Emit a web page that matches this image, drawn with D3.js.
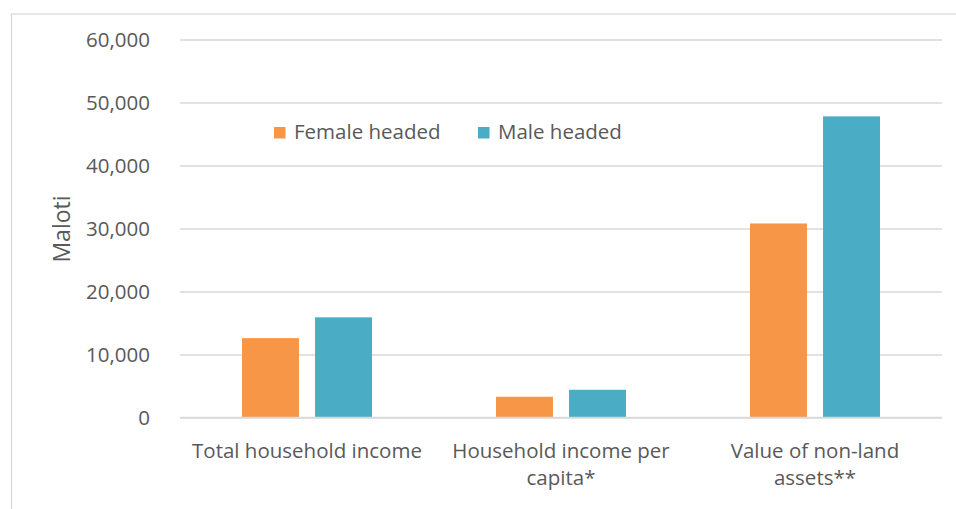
<!DOCTYPE html>
<html>
<head>
<meta charset="utf-8">
<script src="https://cdn.jsdelivr.net/npm/d3@7"></script>
<style>
  body { margin: 0; background: #fff; }
  text { font-family: "Open Sans", sans-serif; fill: #595959; }
</style>
</head>
<body>
<div id="chart"></div>
<script>
const width = 956;
const height = 509;
var margin = {top: 39.5, bottom: 91.5, left: 180, right: 14};

// ******** DATA *********
const categories = ["Total household income", "Household income per capita*", "Value of non-land assets**"];
const seriesNames = ["Female headed", "Male headed"];
const femaleValues = [12600, 3300, 30800];
const maleValues = [15900, 4400, 47800];
const yTicks = [0, 10000, 20000, 30000, 40000, 50000, 60000];
const colors = {"Female headed": "#F79646", "Male headed": "#4BACC6"};

var rows = categories.map(function(c, i){
  return {cat: c, values: [
    {key: seriesNames[0], value: femaleValues[i]},
    {key: seriesNames[1], value: maleValues[i]}
  ]};
});

// ********* SVG *********
var svg = d3.select("#chart").append("svg")
.attr("width", width)
.attr("height", height);

// chart frame (right and bottom run off the picture)
svg.append("rect")
.attr("x", 11.5)
.attr("y", 14)
.attr("width", 990)
.attr("height", 540)
.attr("fill", "none")
.attr("stroke", "#d9d9d9")
.attr("stroke-width", 1.3);

// ******** SCALES *********
var y_scale = d3.scaleLinear()
.domain([0, 60000])
.range([height - margin.bottom, margin.top]);

var x0 = d3.scaleBand()
.domain(categories)
.range([margin.left, width - margin.right]);

var x1 = d3.scaleBand()
.domain(seriesNames)
.range([62, x0.bandwidth() - 62])
.paddingInner(0.22);

// ******** GRIDLINES + Y AXIS *********
var y_axis = d3.axisLeft(y_scale)
.tickValues(yTicks)
.tickSize(-(width - margin.right - margin.left))
.tickPadding(30)
.tickFormat(d3.format(","));

svg.append("g")
.attr("transform", `translate(${margin.left}, 0)`)
.call(y_axis)
.call(function(g){
  g.select(".domain").remove();
  g.selectAll(".tick line")
    .attr("stroke", "#d9d9d9")
    .attr("stroke-width", 1.4);
  g.selectAll(".tick text")
    .attr("dy", "0.34em")
    .style("font-size", "20.5px")
    .style("font-family", "Open Sans")
    .style("fill", "#595959");
});

// y title
svg.append("text")
.attr("transform", "translate(70, 229) rotate(-90)")
.attr("text-anchor", "middle")
.style("font-size", "23px")
.text("Maloti");

// ******** BARS *********
var groups = svg.append("g").selectAll(".group")
.data(rows)
.enter().append("g")
.attr("class", "group")
.attr("transform", function(d){ return `translate(${x0(d.cat)}, 0)`; });

groups.selectAll("rect")
.data(function(d){ return d.values; })
.enter().append("rect")
.attr("x", function(d){ return x1(d.key); })
.attr("y", function(d){ return y_scale(d.value); })
.attr("width", x1.bandwidth())
.attr("height", function(d){ return y_scale(0) - y_scale(d.value); })
.attr("fill", function(d){ return colors[d.key]; });

// baseline over the bars
svg.append("line")
.attr("x1", margin.left)
.attr("x2", width - margin.right)
.attr("y1", y_scale(0))
.attr("y2", y_scale(0))
.attr("stroke", "#d9d9d9")
.attr("stroke-width", 1.4);

// ******** CATEGORY LABELS *********
var catLabels = svg.append("g").selectAll(".cat")
.data(categories)
.enter().append("text")
.attr("class", "cat")
.attr("text-anchor", "middle")
.attr("x", function(d){ return x0(d) + x0.bandwidth()/2; })
.attr("y", 458)
.style("font-size", "20.5px")
.text(function(d){ return d; })
.call(wrap, 240);

function wrap(sel, maxW){
  sel.each(function(){
    var t = d3.select(this);
    var words = t.text().split(/\s+/);
    var x = t.attr("x");
    t.text(null);
    var line = [];
    var tspan = t.append("tspan").attr("x", x).attr("dy", 0);
    var lineNo = 0;
    words.forEach(function(w){
      line.push(w);
      tspan.text(line.join(" "));
      if (tspan.node().getComputedTextLength() > maxW && line.length > 1){
        line.pop();
        tspan.text(line.join(" "));
        line = [w];
        lineNo++;
        tspan = t.append("tspan").attr("x", x).attr("dy", "27px").text(w);
      }
    });
  });
}

// ******** LEGEND *********
var legendX = [274, 478];
var legend = svg.append("g").selectAll(".leg")
.data(seriesNames)
.enter().append("g")
.attr("class", "leg")
.attr("transform", function(d, i){ return `translate(${legendX[i]}, 127)`; });

legend.append("rect")
.attr("width", 11.5)
.attr("height", 11.5)
.attr("fill", function(d){ return colors[d]; });

legend.append("text")
.attr("x", 20)
.attr("y", 11.5)
.style("font-size", "20.5px")
.text(function(d){ return d; });
</script>
</body>
</html>
